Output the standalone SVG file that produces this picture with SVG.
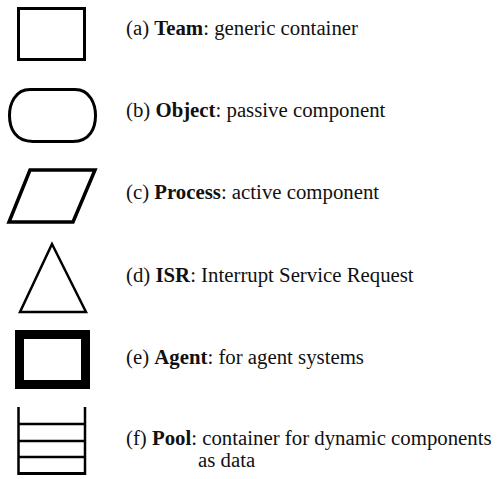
<svg xmlns="http://www.w3.org/2000/svg" width="498" height="479" viewBox="0 0 498 479">
<style>
.s{fill:none;stroke:#000;stroke-linejoin:miter}
.t{font-family:"Liberation Serif","Times New Roman",serif;font-size:20.8px;fill:#111}
.b{font-weight:bold}
</style>
<rect width="498" height="479" fill="#fff"/>
<g id="team">
<rect class="s" x="18.5" y="8.5" width="66" height="51" stroke-width="3"/>
<text class="t" x="126" y="34.5">(a) <tspan class="b">Team</tspan>: generic container</text>
</g>
<g id="object">
<path class="s" stroke-width="3" d="M30,89.5 H75 C90,89.5 95.5,104 95.5,115.5 C95.5,128 90,141.5 73,141.5 H33 C15,141.5 9.5,128 9.5,115.5 C9.5,104 15,89.5 30,89.5 Z"/>
<text class="t" x="126" y="117">(b) <tspan class="b">Object</tspan>: passive component</text>
</g>
<g id="process">
<polygon class="s" stroke-width="3.5" points="30,170 95,170 73,222 9,222"/>
<text class="t" x="126" y="199">(c) <tspan class="b">Process</tspan>: active component</text>
</g>
<g id="isr">
<polygon class="s" stroke-width="2.5" points="52,244 20,312 86,312"/>
<text class="t" x="126" y="282">(d) <tspan class="b">ISR</tspan>: Interrupt Service Request</text>
</g>
<g id="agent">
<rect class="s" x="19.5" y="334.5" width="66" height="50" stroke-width="9"/>
<text class="t" x="126" y="364">(e) <tspan class="b">Agent</tspan>: for agent systems</text>
</g>
<g id="pool">
<path class="s" stroke-width="2.5" d="M18.5,407 V475 M85,407 V475 M18.5,424 H85 M18.5,441 H85 M18.5,457 H85"/>
<path class="s" stroke-width="3" d="M18.5,473.5 H85"/>
<text class="t" x="126" y="444.5">(f) <tspan class="b">Pool</tspan>: container for dynamic components</text>
<text class="t" x="198" y="467">as data</text>
</g>
<g id="connectors"/>
</svg>
